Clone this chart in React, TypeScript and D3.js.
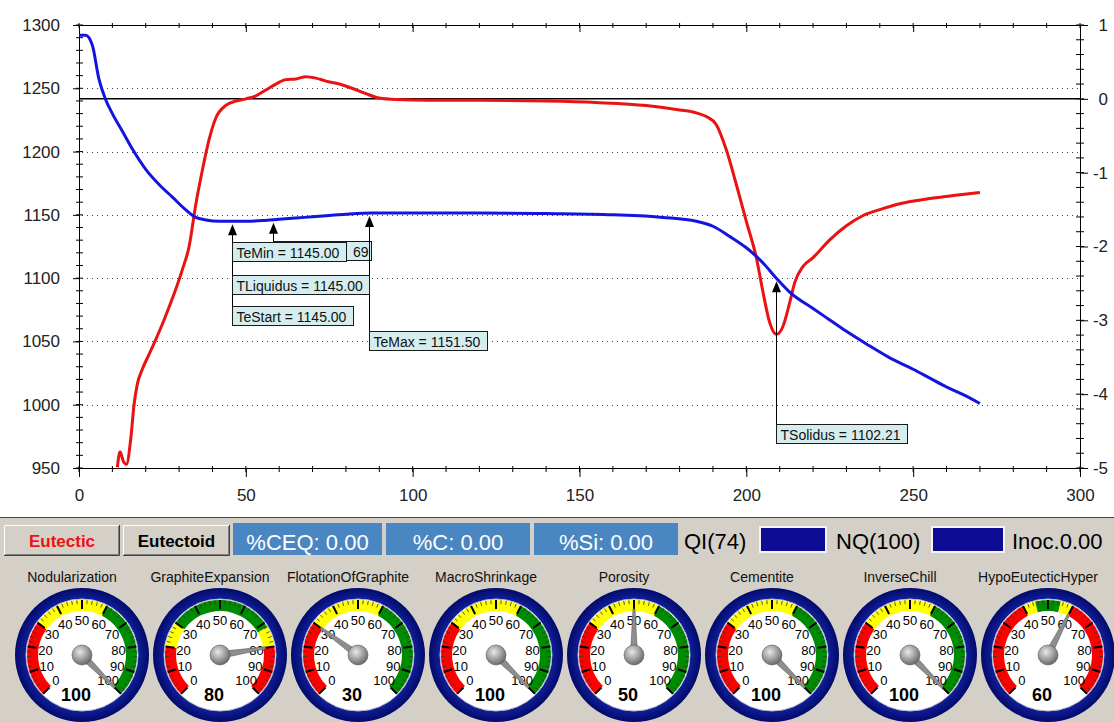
import React, { useEffect, useRef } from "react";
import * as d3 from "d3";

// cooling curve: temperature (left axis) against time in seconds
const tempTime = [0, 2, 4, 6, 8, 10, 13, 16, 20, 24, 28, 32, 35, 38, 42, 46, 50, 55, 60, 65, 70, 75, 80, 88, 100, 120, 140, 160, 175, 185, 190, 195, 200, 205, 209, 213, 220, 225, 230, 236, 243, 250, 255, 260, 265, 270];
const tempValues = [1292, 1292, 1284, 1257, 1241, 1230, 1216, 1202, 1186, 1174, 1164, 1154, 1148, 1146, 1145, 1145, 1145, 1145.5, 1146.5, 1147.5, 1148.5, 1149.5, 1150.5, 1151.5, 1151.5, 1151.5, 1151, 1150, 1148, 1145, 1141, 1133, 1124, 1112, 1100, 1089, 1076, 1067, 1058, 1048, 1037, 1028, 1021, 1014, 1008, 1001];

// first derivative of the cooling curve (right axis)
const rateTime = [11.5, 12.3, 13.3, 14.2, 15.5, 16.5, 17.5, 19, 21, 23, 25, 27, 29, 31, 33, 35, 37, 39, 41, 44, 47, 50, 53, 56, 59, 62, 65, 68, 71, 74, 78, 82, 86, 90, 95, 105, 120, 140, 155, 170, 180, 185, 188, 191, 194, 197, 200, 203, 205, 207, 209, 211, 213, 214.5, 217, 220, 225, 230, 235, 240, 246, 255, 262, 270];
const rateValues = [-4.99, -4.78, -4.91, -4.95, -4.61, -4.14, -3.86, -3.66, -3.46, -3.26, -3.05, -2.82, -2.58, -2.31, -2.0, -1.43, -0.96, -0.55, -0.26, -0.09, -0.03, 0.0, 0.04, 0.12, 0.2, 0.26, 0.27, 0.3, 0.28, 0.24, 0.2, 0.14, 0.07, 0.01, -0.01, -0.02, -0.02, -0.03, -0.05, -0.09, -0.15, -0.19, -0.24, -0.35, -0.69, -1.16, -1.66, -2.15, -2.62, -3.03, -3.19, -3.08, -2.76, -2.49, -2.27, -2.15, -1.91, -1.72, -1.58, -1.5, -1.42, -1.35, -1.31, -1.27];

const xTicks = [0, 50, 100, 150, 200, 250, 300];
const leftTicks = [950, 1000, 1050, 1100, 1150, 1200, 1250, 1300];
const rightTicks = [-5, -4, -3, -2, -1, 0, 1];

// markers
const markerLabels = ["TeMin = 1145.00", "TLiquidus = 1145.00", "TeStart = 1145.00", "TeMax = 1151.50", "TSolidus = 1102.21"];
const markerTime = [46, 46, 46, 87, 209];
const markerBoxTop = [242, 275, 306, 331, 424];
const hiddenMarkerTime = 58;
const hiddenMarkerText = "69";

// bottom panel
const buttonLabels = ["Eutectic", "Eutectoid"];
const buttonColors = ["#ee1111", "#000"];
const readoutLabels = ["%CEQ: 0.00", "%C: 0.00", "%Si: 0.00"];
const indicatorLabels = ["QI(74)", "NQ(100)", "Inoc.0.00"];

const gaugeNames = ["Nodularization", "GraphiteExpansion", "FlotationOfGraphite", "MacroShrinkage", "Porosity", "Cementite", "InverseChill", "HypoEutecticHyper"];
const gaugeValues = [100, 80, 30, 100, 50, 100, 100, 60];
const gaugeTicks = [0, 10, 20, 30, 40, 50, 60, 70, 80, 90, 100];

// colour zones: [from, to, colour]
const zonesStandard: [number, number, string][] = [[0, 30, "#ff0000"], [30, 60, "#ffff00"], [60, 100, "#008c00"]];
const zonesExpansion: [number, number, string][] = [[0, 20, "#ff0000"], [20, 30, "#ffff00"], [30, 72, "#008c00"], [72, 80, "#ffff00"], [80, 100, "#ff0000"]];
const zonesEutectic: [number, number, string][] = [[0, 40, "#ff0000"], [40, 45, "#ffff00"], [45, 55, "#008c00"], [55, 60, "#ffff00"], [60, 100, "#ff0000"]];
const gaugeZones = [zonesStandard, zonesExpansion, zonesStandard, zonesStandard, zonesStandard, zonesStandard, zonesStandard, zonesEutectic];

const FONT = "'Liberation Sans', Arial, sans-serif";

export default function App() {
  const ref = useRef<SVGSVGElement>(null);

  useEffect(() => {
    const svg = d3.select(ref.current);
    svg.selectAll("*").remove();

    svg.append("rect").attr("width", 1114).attr("height", 517).attr("fill", "#fff");
    svg.append("rect").attr("y", 517).attr("width", 1114).attr("height", 205).attr("fill", "#d4d0c8");
    svg.append("line").attr("x1", 0).attr("x2", 1114).attr("y1", 517.5).attr("y2", 517.5).attr("stroke", "#444");

    const x = d3.scaleLinear().domain([0, 300]).range([79, 1080]);
    const yT = d3.scaleLinear().domain([950, 1300]).range([468, 25]);
    const yR = d3.scaleLinear().domain([-5, 1]).range([468, 25]);
    const tempAt = d3.scaleLinear().domain(tempTime).range(tempValues);

    const plot = svg.append("g");

    // dotted grid
    plot.selectAll(".grid").data(leftTicks.slice(1, -1)).join("line")
      .attr("x1", 82).attr("x2", 1078)
      .attr("y1", d => Math.round(yT(d)) + 0.5).attr("y2", d => Math.round(yT(d)) + 0.5)
      .attr("stroke", "#444").attr("stroke-dasharray", "1,4");

    // zero line of derivative
    plot.append("line").attr("x1", 79).attr("x2", 1080)
      .attr("y1", yR(0)).attr("y2", yR(0)).attr("stroke", "#000").attr("stroke-width", 1.5);

    const styleAxis = (g: any) => {
      g.attr("font-size", 17).attr("font-family", FONT);
      g.select(".domain").attr("stroke", "#000");
      g.selectAll("line").attr("stroke", "#000");
      g.selectAll("text").attr("fill", "#222");
    };

    // left axis
    plot.append("g").attr("transform", "translate(79,0)")
      .call(d3.axisLeft(yT).tickValues(leftTicks).tickSize(6).tickPadding(13).tickSizeOuter(0).tickFormat(d => String(d)))
      .call(styleAxis);
    plot.append("g").selectAll("line").data(yT.ticks(35)).join("line")
      .attr("x1", 76).attr("x2", 83).attr("y1", d => yT(d)).attr("y2", d => yT(d)).attr("stroke", "#000");

    // right axis
    const gr = plot.append("g").attr("transform", "translate(1080,0)")
      .call(d3.axisRight(yR).tickValues(rightTicks).tickSize(8).tickSizeOuter(0).tickFormat(d => String(d)))
      .call(styleAxis);
    gr.selectAll("text").attr("text-anchor", "end").attr("x", 28);
    plot.append("g").selectAll("line").data(yR.ticks(30)).join("line")
      .attr("x1", 1076).attr("x2", 1084).attr("y1", d => yR(d)).attr("y2", d => yR(d)).attr("stroke", "#000");

    // bottom axis
    plot.append("g").attr("transform", "translate(0,468)")
      .call(d3.axisBottom(x).tickValues(xTicks).tickSize(9).tickPadding(12).tickSizeOuter(0))
      .call(styleAxis);
    plot.append("g").selectAll("line").data(x.ticks(30)).join("line")
      .attr("x1", d => x(d)).attr("x2", d => x(d)).attr("y1", 466).attr("y2", 472).attr("stroke", "#000");

    // top axis
    plot.append("g").attr("transform", "translate(0,25)")
      .call(d3.axisTop(x).tickValues(xTicks).tickSize(-7).tickSizeOuter(0).tickFormat(() => ""))
      .call(styleAxis);
    plot.append("g").selectAll("line").data(x.ticks(30)).join("line")
      .attr("x1", d => x(d)).attr("x2", d => x(d)).attr("y1", 23).attr("y2", 28).attr("stroke", "#000");

    // curves
    const rateLine = d3.line<number>().x((d, i) => x(rateTime[i])).y(d => yR(d)).curve(d3.curveMonotoneX);
    const tempLine = d3.line<number>().x((d, i) => x(tempTime[i])).y(d => yT(d)).curve(d3.curveMonotoneX);
    plot.append("path").attr("d", rateLine(rateValues)).attr("fill", "none")
      .attr("stroke", "#ea1212").attr("stroke-width", 3).attr("stroke-linejoin", "round");
    plot.append("path").attr("d", tempLine(tempValues)).attr("fill", "none")
      .attr("stroke", "#1414e0").attr("stroke-width", 3).attr("stroke-linejoin", "round");

    // markers
    const ann = svg.append("g").attr("font-family", FONT).attr("font-size", 14);
    const arrow = (t: number, bottom: number) => {
      const ax = Math.round(x(t)) + 0.5;
      const tip = yT(tempAt(t)) + 3;
      ann.append("line").attr("x1", ax).attr("x2", ax).attr("y1", tip + 8).attr("y2", bottom).attr("stroke", "#000");
      ann.append("path").attr("d", `M${ax},${tip}L${ax - 4.5},${tip + 11}L${ax + 4.5},${tip + 11}Z`).attr("fill", "#000");
      return ax;
    };
    const box = (bx: number, by: number, label: string, right?: number) => {
      const g = ann.append("g").attr("transform", `translate(${bx},${by + 0.5})`);
      const r = g.append("rect").attr("height", 19).attr("fill", "#d6edef").attr("stroke", "#1a1a1a");
      const tx = g.append("text").attr("x", 4).attr("y", 15).attr("fill", "#111").text(label);
      let w = (tx.node() as SVGTextElement).getComputedTextLength() + 11;
      if (right !== undefined) {
        w = right - bx;
        tx.attr("text-anchor", "end").attr("x", w - 3);
      }
      r.attr("width", Math.round(w));
    };

    // hidden marker behind TeMin
    const hx = arrow(hiddenMarkerTime, 241);
    box(hx, 241, hiddenMarkerText, 371.5);

    const seen: Record<number, number> = {};
    markerTime.forEach((t, i) => { seen[t] = Math.max(seen[t] || 0, markerBoxTop[i]); });
    Object.keys(seen).forEach(k => arrow(+k, seen[+k]));
    markerLabels.forEach((label, i) => box(Math.round(x(markerTime[i])) + 0.5, markerBoxTop[i], label));

    // ---- bottom panel ----
    const panel = svg.append("g").attr("font-family", FONT);
    const bevel = (bx: number, by: number, w: number, h: number) => {
      panel.append("rect").attr("x", bx).attr("y", by).attr("width", w).attr("height", h).attr("fill", "#d4d0c8");
      panel.append("path").attr("d", `M${bx + 0.5},${by + h}V${by + 0.5}H${bx + w}`).attr("stroke", "#fff").attr("fill", "none");
      panel.append("path").attr("d", `M${bx},${by + h - 0.5}H${bx + w - 0.5}V${by}`).attr("stroke", "#404040").attr("fill", "none");
      panel.append("path").attr("d", `M${bx + 1},${by + h - 1.5}H${bx + w - 1.5}V${by + 1}`).attr("stroke", "#808080").attr("fill", "none");
    };
    const buttonX = [4, 123];
    const buttonW = [116, 107];
    buttonLabels.forEach((label, i) => {
      bevel(buttonX[i], 525, buttonW[i], 31);
      panel.append("text").attr("x", buttonX[i] + buttonW[i] / 2).attr("y", 547)
        .attr("text-anchor", "middle").attr("font-size", 17).attr("font-weight", "bold")
        .attr("fill", buttonColors[i]).text(label);
    });

    const readoutX = [233, 386, 534];
    const readoutW = [149, 144, 144];
    readoutLabels.forEach((label, i) => {
      panel.append("rect").attr("x", readoutX[i]).attr("y", 523).attr("width", readoutW[i]).attr("height", 32).attr("fill", "#4a86c2");
      panel.append("text").attr("x", readoutX[i] + readoutW[i] / 2).attr("y", 550)
        .attr("text-anchor", "middle").attr("font-size", 22).attr("fill", "#fff").text(label);
    });

    const indicatorX = [684, 836, 1012];
    indicatorLabels.forEach((label, i) => {
      panel.append("text").attr("x", indicatorX[i]).attr("y", 549).attr("font-size", 22).attr("fill", "#000").text(label);
    });
    const swatchX = [759, 931];
    const swatchW = [68, 74];
    swatchX.forEach((sx, i) => {
      panel.append("rect").attr("x", sx + 1).attr("y", 527).attr("width", swatchW[i] - 2).attr("height", 25)
        .attr("fill", "#0c0c94").attr("stroke", "#f4f4f4").attr("stroke-width", 2);
    });

    // gauges
    const angle = d3.scaleLinear().domain([0, 100]).range([-135, 135]);
    const rad = (v: number) => (angle(v) * Math.PI) / 180;
    const defs = svg.append("defs");
    const hub = defs.append("radialGradient").attr("id", "hub").attr("cx", "40%").attr("cy", "35%").attr("r", "65%");
    hub.append("stop").attr("offset", "0%").attr("stop-color", "#e8e8e8");
    hub.append("stop").attr("offset", "100%").attr("stop-color", "#6a6a6a");
    const ring = defs.append("radialGradient").attr("id", "ring");
    ring.append("stop").attr("offset", "80%").attr("stop-color", "#1424a4");
    ring.append("stop").attr("offset", "100%").attr("stop-color", "#020a6a");

    const arc = d3.arc<any>().innerRadius(44).outerRadius(55);
    gaugeNames.forEach((name, i) => {
      const cx = 82 + i * 138;
      const cy = 655;
      panel.append("text").attr("x", cx - 10).attr("y", 582).attr("text-anchor", "middle")
        .attr("font-size", 14).attr("fill", "#111").text(name);

      const g = panel.append("g").attr("transform", `translate(${cx},${cy})`);
      g.append("circle").attr("r", 67).attr("fill", "url(#ring)");
      g.append("circle").attr("r", 56).attr("fill", "#fff").attr("stroke", "#b8b8c8").attr("stroke-width", 1);

      gaugeZones[i].forEach(([a, b, c]) => {
        g.append("path").attr("d", arc({ startAngle: rad(a), endAngle: rad(b) })).attr("fill", c);
      });

      const minor = d3.range(0, 101, 2);
      g.selectAll(".minor").data(minor).join("line")
        .attr("x1", d => 51 * Math.sin(rad(d))).attr("y1", d => -51 * Math.cos(rad(d)))
        .attr("x2", d => 55 * Math.sin(rad(d))).attr("y2", d => -55 * Math.cos(rad(d)))
        .attr("stroke", "#333").attr("stroke-width", 0.8);
      g.selectAll(".major").data(gaugeTicks).join("line")
        .attr("x1", d => 46 * Math.sin(rad(d))).attr("y1", d => -46 * Math.cos(rad(d)))
        .attr("x2", d => 55 * Math.sin(rad(d))).attr("y2", d => -55 * Math.cos(rad(d)))
        .attr("stroke", "#000").attr("stroke-width", 2);
      g.selectAll(".lbl").data(gaugeTicks).join("text")
        .attr("x", d => 37 * Math.sin(rad(d))).attr("y", d => -35 * Math.cos(rad(d)) + 5)
        .attr("text-anchor", "middle").attr("font-size", 13).attr("fill", "#000")
        .text(d => d);

      // needle
      const a = rad(gaugeValues[i]);
      const s = Math.sin(a), c = Math.cos(a);
      const len = 46;
      const pts = [
        [3.5 * c, 3.5 * s],
        [len * s + 1 * c, -len * c + 1 * s],
        [len * s - 1 * c, -len * c - 1 * s],
        [-3.5 * c, -3.5 * s],
      ];
      g.append("path").attr("d", "M" + pts.map(p => p.join(",")).join("L") + "Z")
        .attr("fill", "#8e8e8e").attr("stroke", "#5a5a5a").attr("stroke-width", 0.6);
      g.append("circle").attr("r", 10).attr("fill", "url(#hub)").attr("stroke", "#555").attr("stroke-width", 0.6);

      g.append("text").attr("x", -6).attr("y", 46).attr("text-anchor", "middle")
        .attr("font-size", 18).attr("font-weight", "bold").attr("fill", "#000").text(gaugeValues[i]);
    });
  }, []);

  return (
    <svg ref={ref} width={1114} height={722}
      style={{ position: "absolute", left: 0, top: 0, fontFamily: FONT }} />
  );
}
